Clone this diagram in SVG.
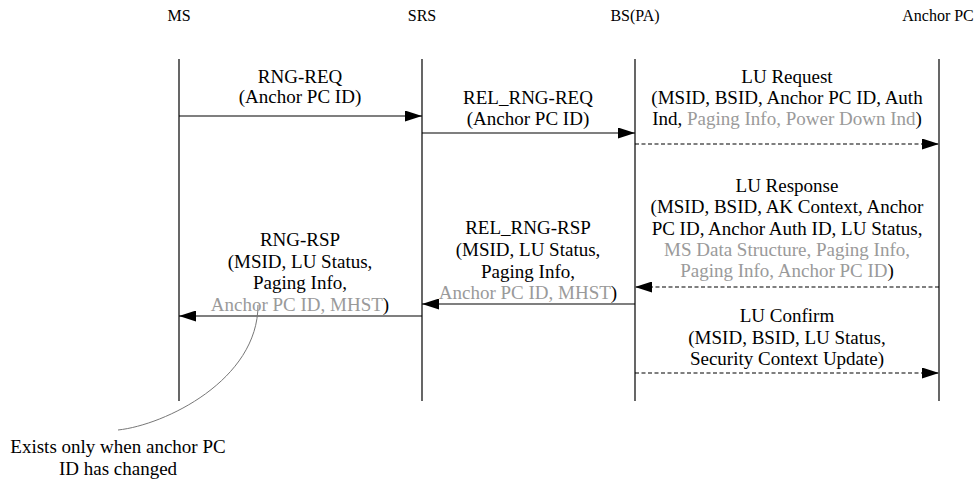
<svg xmlns="http://www.w3.org/2000/svg" width="980" height="483" viewBox="0 0 980 483">
<style>
text{font-family:"Times New Roman","Liberation Serif",serif;font-style:normal;font-weight:400;fill:#000}
.hdr{font-size:16px;text-anchor:middle}
.lbl{font-size:19px;text-anchor:middle}
.g{fill:#9a9a9a}
.life{stroke:#000;stroke-width:1.2;fill:none}
.msg{stroke:#000;stroke-width:1.2;fill:none}
.dash{stroke-dasharray:4 2.5}
</style>
<defs>
<marker id="ah" markerUnits="userSpaceOnUse" markerWidth="17" markerHeight="11" refX="17" refY="5.5" orient="auto">
<path d="M0,0 L17,5.5 L0,11 z" fill="#000"/>
</marker>
</defs>
<rect width="980" height="483" fill="#fff"/>
<g id="MS">
<text class="hdr" x="179" y="21">MS</text>
<line class="life" x1="179" y1="59" x2="179" y2="401"/>
</g>
<g id="SRS">
<text class="hdr" x="422" y="21">SRS</text>
<line class="life" x1="422" y1="59" x2="422" y2="401"/>
</g>
<g id="BSPA">
<text class="hdr" x="635" y="21">BS(PA)</text>
<line class="life" x1="635" y1="59" x2="635" y2="401"/>
</g>
<g id="AnchorPC">
<text class="hdr" x="938" y="21">Anchor PC</text>
<line class="life" x1="939" y1="59" x2="939" y2="401"/>
</g>
<g id="connectors">
<line class="msg" x1="179" y1="116" x2="422" y2="116" marker-end="url(#ah)"/>
<line class="msg" x1="422" y1="133" x2="635" y2="133" marker-end="url(#ah)"/>
<line class="msg dash" x1="635" y1="144" x2="939" y2="144" marker-end="url(#ah)"/>
<line class="msg dash" x1="939" y1="287" x2="635" y2="287" marker-end="url(#ah)"/>
<line class="msg" x1="635" y1="304" x2="422" y2="304" marker-end="url(#ah)"/>
<line class="msg" x1="422" y1="316" x2="179" y2="316" marker-end="url(#ah)"/>
<line class="msg dash" x1="635" y1="373" x2="939" y2="373" marker-end="url(#ah)"/>
<path d="M258,305 C258,380 165,425 118,430" fill="none" stroke="#777" stroke-width="1"/>
</g>
<g id="lbl-rngreq">
<text class="lbl" x="300" y="83">RNG-REQ</text>
<text class="lbl" x="300" y="103">(Anchor PC ID)</text>
</g>
<g id="lbl-relrngreq">
<text class="lbl" x="528" y="104">REL_RNG-REQ</text>
<text class="lbl" x="528" y="125">(Anchor PC ID)</text>
</g>
<g id="lbl-lureq">
<text class="lbl" x="787" y="83">LU Request</text>
<text class="lbl" x="787" y="104">(MSID, BSID, Anchor PC ID, Auth</text>
<text class="lbl" x="787" y="125">Ind, <tspan class="g">Paging Info, Power Down Ind</tspan>)</text>
</g>
<g id="lbl-luresp">
<text class="lbl" x="787" y="192">LU Response</text>
<text class="lbl" x="787" y="213">(MSID, BSID, AK Context, Anchor</text>
<text class="lbl" x="787" y="235">PC ID, Anchor Auth ID, LU Status,</text>
<text class="lbl g" x="787" y="256">MS Data Structure, Paging Info,</text>
<text class="lbl" x="787" y="277"><tspan class="g">Paging Info, Anchor PC ID</tspan>)</text>
</g>
<g id="lbl-relrngrsp">
<text class="lbl" x="528" y="234">REL_RNG-RSP</text>
<text class="lbl" x="528" y="256">(MSID, LU Status,</text>
<text class="lbl" x="528" y="278">Paging Info,</text>
<text class="lbl" x="528" y="299"><tspan class="g">Anchor PC ID, MHST</tspan>)</text>
</g>
<g id="lbl-rngrsp">
<text class="lbl" x="300" y="246">RNG-RSP</text>
<text class="lbl" x="300" y="268">(MSID, LU Status,</text>
<text class="lbl" x="300" y="289">Paging Info,</text>
<text class="lbl" x="300" y="311"><tspan class="g">Anchor PC ID, MHST</tspan>)</text>
</g>
<g id="lbl-luconfirm">
<text class="lbl" x="787" y="322">LU Confirm</text>
<text class="lbl" x="787" y="344">(MSID, BSID, LU Status,</text>
<text class="lbl" x="787" y="365">Security Context Update)</text>
</g>
<g id="note">
<text class="lbl" x="118" y="453">Exists only when anchor PC</text>
<text class="lbl" x="118" y="475">ID has changed</text>
</g>
</svg>
